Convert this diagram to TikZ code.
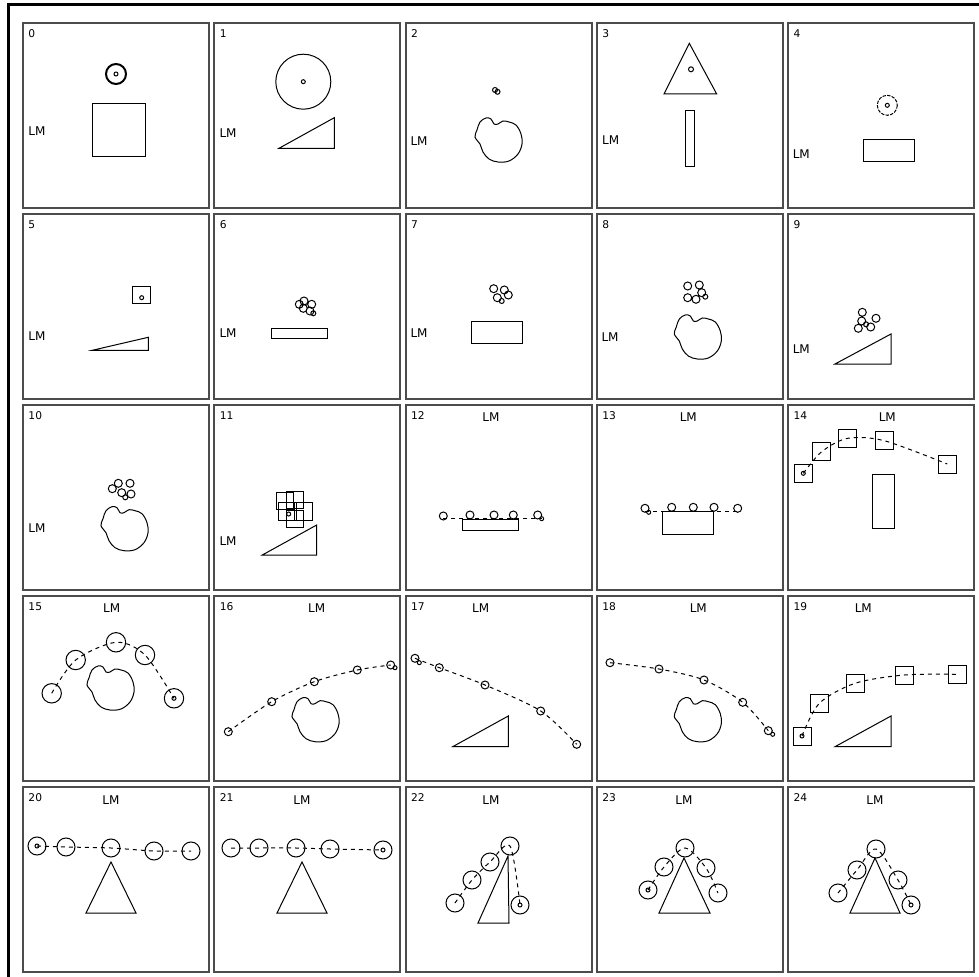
\documentclass[tikz,border=0pt]{standalone}
\usepackage{fontspec}
\setmainfont{DejaVu Sans}
\begin{document}
\begin{tikzpicture}[x=0.75pt,y=-0.75pt, line width=0.75pt,
  panelbox/.style={draw=black!70, line width=1.5pt},
  num/.style={anchor=north west, inner sep=0pt, font=\fontsize{8}{9}\selectfont},
  lmtext/.style={inner sep=0pt, font=\fontsize{9}{10}\selectfont},
  thin/.style={draw=black, line width=0.75pt},
  dashpath/.style={draw=black, line width=0.75pt, dash pattern=on 3pt off 3pt},
  blob/.style={draw=black, line width=0.75pt}]
\useasboundingbox (0,0) rectangle (979,977);
\draw[line width=2.25pt] (8,977) -- (8,5) -- (979,5);
% panels
\foreach \c/\r/\n in {0/0/0,1/0/1,2/0/2,3/0/3,4/0/4,0/1/5,1/1/6,2/1/7,3/1/8,4/1/9,0/2/10,1/2/11,2/2/12,3/2/13,4/2/14,0/3/15,1/3/16,2/3/17,3/3/18,4/3/19,0/4/20,1/4/21,2/4/22,3/4/23,4/4/24}{
  \pgfmathsetmacro\px{23+191.25*\c}
  \pgfmathsetmacro\py{23+191*\r}
  \draw[panelbox] (\px,\py) rectangle ++(186,185);
  \node[num] (n\n) at (\px+5,\py+6) {\n};
}
\newcommand\blobat[2]{\begin{scope}[shift={(#1,#2)}]
  \draw[blob] plot[smooth cycle, tension=0.6] coordinates {(3,13) (6,5) (12,1) (17,2) (20,7) (24,7) (29,4) (35,5) (42,8) (47,17) (48,27) (44,37) (35,44) (24,45) (15,42) (9,35) (6,27) (1,20)};
\end{scope}}
% ---- panel 0
\node[lmtext, anchor=west] (lm0) at (28,131) {LM};
\draw[line width=1.5pt] (116,74) circle (10);
\draw[thin] (116,74) circle (2);
\draw[thin] (92,104) rectangle (145,157);
% ---- panel 1
\node[lmtext, anchor=west] (lm1) at (219,133) {LM};
\draw[thin] (303.3,81.7) circle (27.5);
\draw[thin] (303.3,81.7) circle (2);
\draw[thin] (279,148.3) -- (334.3,117.7) -- (334.3,148.3) -- cycle;
% ---- panel 2
\node[lmtext, anchor=west] (lm2) at (410,140.7) {LM};
\draw[thin] (495,90) circle (2.5) (497.5,91.8) circle (2.5);
\blobat{474}{117}
% ---- panel 3
\node[lmtext, anchor=west] (lm3) at (601.7,140) {LM};
\draw[thin] (689.3,43.3) -- (664,94) -- (716.7,94) -- cycle;
\draw[thin] (691,69.3) circle (2.5);
\draw[thin] (685.7,111) rectangle (694.3,166.7);
% ---- panel 4
\node[lmtext, anchor=west] (lm4) at (792.3,154) {LM};
\draw[thin, dash pattern=on 2.5pt off 1pt] (887.3,105.3) circle (10);
\draw[thin] (887.3,105.3) circle (2);
\draw[thin] (863.3,140) rectangle (914.3,162);
% ---- panel 5
\node[lmtext, anchor=west] (lm5) at (28,335.7) {LM};
\draw[thin] (132,286.3) rectangle (150,304);
\draw[thin] (141.7,297.7) circle (2);
\draw[thin] (92.3,350.3) -- (148.3,337.3) -- (148.3,350.3) -- cycle;
% ---- panel 6
\node[lmtext, anchor=west] (lm6) at (219,332.7) {LM};
\draw[thin] (299.3,304.3) circle (4) (304,301) circle (4) (311.7,304.3) circle (4) (303.3,308.3) circle (4) (310,311) circle (4) (313.3,313.3) circle (2.5);
\draw[thin] (271.7,328.3) rectangle (327.3,338.7);
% ---- panel 7
\node[lmtext, anchor=west] (lm7) at (410,332.7) {LM};
\draw[thin] (493.7,288.7) circle (4) (504.3,290) circle (4) (508.3,295) circle (4) (497.3,297.7) circle (4) (501.7,301) circle (2.5);
\draw[thin] (471,321) rectangle (522.3,343.3);
% ---- panel 8
\node[lmtext, anchor=west] (lm8) at (601,336.7) {LM};
\draw[thin] (687.7,286) circle (4) (699.3,285) circle (4) (701.7,292.7) circle (4) (687.7,297.7) circle (4) (696,299.3) circle (4) (705.3,296.7) circle (2.5);
\blobat{673.3}{314}
% ---- panel 9
\node[lmtext, anchor=west] (lm9) at (792.3,349) {LM};
\draw[thin] (862.3,312.3) circle (4) (876,318.3) circle (4) (861.7,321) circle (4) (858.3,328.3) circle (4) (870.7,327) circle (4) (866,324.3) circle (2.5);
\draw[thin] (835,364) -- (891,334) -- (891,364) -- cycle;
% ---- panel 10
\node[lmtext, anchor=west] (lm10) at (28,527.7) {LM};
\draw[thin] (112.3,488.7) circle (4) (118.3,483.3) circle (4) (130,483.3) circle (4) (121.7,492.7) circle (4) (131,494) circle (4) (125.3,497.3) circle (2.5);
\blobat{100}{505.7}
% ---- panel 11
\node[lmtext, anchor=west] (lm11) at (219,540.7) {LM};
\draw[thin] (276,492) rectangle (293.5,509.5) (286,491) rectangle (303,508) (278.7,502) rectangle (296,520) (294.7,502) rectangle (312.3,520) (286,510) rectangle (303.7,527);
\draw[thin] (288.7,514) circle (2);
\draw[thin] (262.3,555) -- (316.7,525) -- (316.7,555) -- cycle;
% ---- panel 12
\node[lmtext] (lm12) at (491,417) {LM};
\draw[thin] (462.7,519.3) rectangle (518.3,530);
\draw[dashpath] (443.3,518.7) -- (541.7,518.7);
\draw[thin] (443.3,516) circle (4) (470,515) circle (4) (494,515) circle (4) (513.3,515) circle (4) (537.7,515) circle (4) (541.7,518.7) circle (2);
% ---- panel 13
\node[lmtext] (lm13) at (688.3,417) {LM};
\draw[thin] (662.3,511.7) rectangle (713.3,534.3);
\draw[dashpath] (645,511.3) -- (737.7,511.3);
\draw[thin] (645,508.3) circle (4) (671.7,507.3) circle (4) (693.3,507.3) circle (4) (714,507.3) circle (4) (737.7,508.3) circle (4) (648.7,512.3) circle (2);
% ---- panel 14
\node[lmtext] (lm14) at (887.3,417) {LM};
\draw[dashpath] plot[smooth] coordinates {(803.3,473.3) (821.7,451.7) (847.7,438.3) (884.3,440.7) (947.3,464)};
\foreach \x/\y in {803.3/473.3, 821.7/451.7, 847.7/438.3, 884.3/440.7, 947.3/464}
  \draw[thin] (\x-9,\y-9) rectangle (\x+9,\y+9);
\draw[thin] (803.3,473.3) circle (2);
\draw[thin] (872.3,474) rectangle (894.7,528.3);
% ---- panel 15
\node[lmtext] (lm15) at (111.7,608.3) {LM};
\draw[dashpath] plot[smooth] coordinates {(51.7,693.3) (75.7,660) (116,642.3) (145,655) (174,698.3)};
\draw[thin] (51.7,693.3) circle (9.7) (75.7,660) circle (9.7) (116,642.3) circle (9.7) (145,655) circle (9.7) (174,698.3) circle (9.7) (174,698.3) circle (2);
\blobat{86}{665}
% ---- panel 16
\node[lmtext] (lm16) at (316.7,608.3) {LM};
\draw[dashpath] plot[smooth] coordinates {(228.3,731.7) (271.7,701.7) (314.3,681.7) (357.3,670) (390.7,665)};
\draw[thin] (228.3,731.7) circle (4) (271.7,701.7) circle (4) (314.3,681.7) circle (4) (357.3,670) circle (4) (390.7,665) circle (4) (395,667.7) circle (2);
\blobat{291}{696.7}
% ---- panel 17
\node[lmtext] (lm17) at (480.7,608.3) {LM};
\draw[dashpath] plot[smooth] coordinates {(415,658.3) (439.3,667.7) (485,685) (540.7,711) (576.7,744.3)};
\draw[thin] (415,658.3) circle (4) (439.3,667.7) circle (4) (485,685) circle (4) (540.7,711) circle (4) (576.7,744.3) circle (4) (419.3,662.7) circle (2);
\draw[thin] (452.7,746.7) -- (508.3,716) -- (508.3,746.7) -- cycle;
% ---- panel 18
\node[lmtext] (lm18) at (698.3,608.3) {LM};
\draw[dashpath] plot[smooth] coordinates {(610,662.7) (659,669) (704,680) (742.7,702.3) (768.3,730.7)};
\draw[thin] (610,662.7) circle (4) (659,669) circle (4) (704,680) circle (4) (742.7,702.3) circle (4) (768.3,730.7) circle (4) (772.7,734.3) circle (2);
\blobat{673.3}{696.7}
% ---- panel 19
\node[lmtext] (lm19) at (863.3,608.3) {LM};
\draw[dashpath] plot[smooth] coordinates {(802,736) (819.3,703.3) (855,683.3) (904.3,675) (957.3,674.3)};
\foreach \x/\y in {802/736, 819.3/703.3, 855/683.3, 904.3/675, 957.3/674.3}
  \draw[thin] (\x-9,\y-9) rectangle (\x+9,\y+9);
\draw[thin] (802,736) circle (2);
\draw[thin] (835,746.7) -- (891,716) -- (891,746.7) -- cycle;
% ---- panel 20
\node[lmtext] (lm20) at (111,800) {LM};
\draw[dashpath] plot[smooth] coordinates {(37,846) (66,847) (111,848) (154,851) (191,851)};
\draw[thin] (37,846) circle (9) (66,847) circle (9) (111,848) circle (9) (154,851) circle (9) (191,851) circle (9) (37,846) circle (2);
\draw[thin] (111,862) -- (86,913) -- (136,913) -- cycle;
% ---- panel 21
\node[lmtext] (lm21) at (302,800) {LM};
\draw[dashpath] plot[smooth] coordinates {(231,848) (259,848) (296,848) (330,849) (383,850)};
\draw[thin] (231,848) circle (9) (259,848) circle (9) (296,848) circle (9) (330,849) circle (9) (383,850) circle (9) (383,850) circle (2);
\draw[thin] (302,862) -- (277,913) -- (327,913) -- cycle;
% ---- panel 22
\node[lmtext] (lm22) at (491,800) {LM};
\draw[dashpath] plot[smooth] coordinates {(455,903) (472,880) (490,862) (510,846) (520,905)};
\draw[thin] (455,903) circle (9) (472,880) circle (9) (490,862) circle (9) (510,846) circle (9) (520,905) circle (9) (520,905) circle (2);
\draw[thin] (508,856) -- (478,923) -- (509,923) -- cycle;
% ---- panel 23
\node[lmtext] (lm23) at (684,800) {LM};
\draw[dashpath] plot[smooth] coordinates {(648,890) (664,867) (685,848) (706,868) (718,893)};
\draw[thin] (648,890) circle (9) (664,867) circle (9) (685,848) circle (9) (706,868) circle (9) (718,893) circle (9) (648,890) circle (2);
\draw[thin] (684,858) -- (659,913) -- (710,913) -- cycle;
% ---- panel 24
\node[lmtext] (lm24) at (875,800) {LM};
\draw[dashpath] plot[smooth] coordinates {(838,893) (857,870) (876,849) (898,880) (911,905)};
\draw[thin] (838,893) circle (9) (857,870) circle (9) (876,849) circle (9) (898,880) circle (9) (911,905) circle (9) (911,905) circle (2);
\draw[thin] (875,858) -- (850,913) -- (900,913) -- cycle;
\end{tikzpicture}
\end{document}
